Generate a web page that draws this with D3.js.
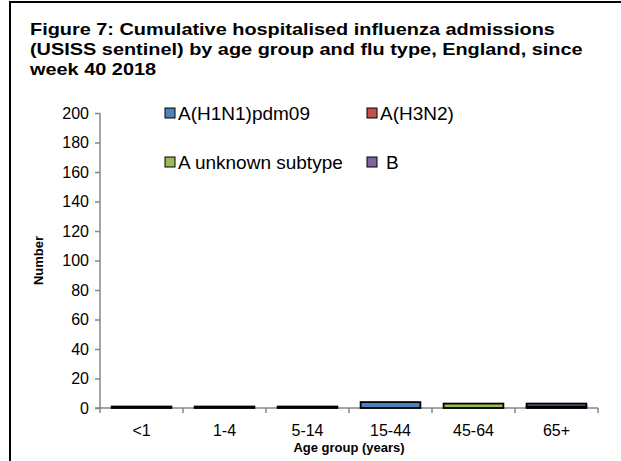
<!DOCTYPE html>
<html>
<head>
<meta charset="utf-8">
<script src="https://cdn.jsdelivr.net/npm/d3@7"></script>
<style>
  body { margin: 0; background: #fff; }
  text { font-family: "Liberation Sans", Arial, sans-serif; }
</style>
</head>
<body>
<div id="chart"></div>
<script>
// chart data
const ageGroups = ['<1', '1-4', '5-14', '15-44', '45-64', '65+'];
const seriesNames = ['A(H1N1)pdm09', 'A(H3N2)', 'A unknown subtype', 'B'];
const h1n1 = [1, 1, 1, 4, 0, 0];
const h3n2 = [0, 0, 0, 0, 0, 0];
const aUnknown = [0, 0, 0, 0, 3, 1];
const fluB = [0, 0, 0, 0, 0, 2];
const yTicks = [0, 20, 40, 60, 80, 100, 120, 140, 160, 180, 200];
const colours = ['#4F81BD', '#C0504D', '#9BBB59', '#8064A2'];

const svgWidth = 621;
const svgHeight = 461;
const margin = { top: 113, right: 23, bottom: 53, left: 100 };
const width = svgWidth - margin.left - margin.right;
const height = svgHeight - margin.top - margin.bottom;

const svg = d3.select('#chart')
    .append('svg')
    .attr('width', svgWidth)
    .attr('height', svgHeight);

// outer frame (runs off right and bottom edges)
svg.append('rect')
    .attr('x', 10)
    .attr('y', 2)
    .attr('width', 640)
    .attr('height', 480)
    .attr('fill', 'none')
    .attr('stroke', '#000')
    .attr('stroke-width', 2);

// title, a little stretched sideways like the original
const titleLines = [
    'Figure 7: Cumulative hospitalised influenza admissions',
    '(USISS sentinel) by age group and flu type, England, since',
    'week 40 2018'
];
svg.append('g')
    .attr('transform', 'translate(30, 0) scale(1.17, 1)')
    .selectAll('text')
    .data(titleLines)
    .enter()
    .append('text')
    .attr('x', 0)
    .attr('y', (d, i) => 35 + i * 20)
    .attr('font-size', '17px')
    .attr('font-weight', 'bold')
    .attr('fill', '#000')
    .text(d => d);

const chartGroup = svg.append('g')
    .attr('transform', `translate(${margin.left}, ${margin.top})`);

const xScale = d3.scaleBand()
    .domain(ageGroups)
    .range([0, width])
    .paddingInner(0.28)
    .paddingOuter(0.14);

const yScale = d3.scaleLinear()
    .domain([0, 200])
    .range([height, 0]);

// stack data
const rows = ageGroups.map((g, i) => ({
    group: g,
    [seriesNames[0]]: h1n1[i],
    [seriesNames[1]]: h3n2[i],
    [seriesNames[2]]: aUnknown[i],
    [seriesNames[3]]: fluB[i]
}));
const stacked = d3.stack().keys(seriesNames)(rows);

// y axis
const leftAxis = d3.axisLeft(yScale)
    .tickValues(yTicks)
    .tickSize(5)
    .tickSizeOuter(0)
    .tickPadding(6);
const yAxisG = chartGroup.append('g').call(leftAxis);
yAxisG.select('.domain').remove();
yAxisG.append('line')
    .attr('y1', 0)
    .attr('y2', height + 5)
    .attr('stroke', '#868686')
    .attr('stroke-width', 1.5);
yAxisG.selectAll('.tick line').attr('stroke', '#868686').attr('stroke-width', 1.5);
yAxisG.selectAll('.tick text')
    .attr('font-size', '16px')
    .attr('fill', '#000');

// x axis with ticks between categories
const xAxisG = chartGroup.append('g')
    .attr('transform', `translate(0, ${height})`);
xAxisG.append('line')
    .attr('x1', -5)
    .attr('x2', width)
    .attr('stroke', '#868686')
    .attr('stroke-width', 1.5);
const step = xScale.step();
xAxisG.selectAll('.sep')
    .data(d3.range(1, ageGroups.length + 1))
    .enter()
    .append('line')
    .attr('x1', i => i * step)
    .attr('x2', i => i * step)
    .attr('y1', 0)
    .attr('y2', 5)
    .attr('stroke', '#868686')
    .attr('stroke-width', 1.5);
xAxisG.selectAll('.cat')
    .data(ageGroups)
    .enter()
    .append('text')
    .attr('x', d => xScale(d) + xScale.bandwidth() / 2)
    .attr('y', 28)
    .attr('text-anchor', 'middle')
    .attr('font-size', '16px')
    .attr('fill', '#000')
    .text(d => d);

// bars
chartGroup.append('g').selectAll('g')
    .data(stacked)
    .enter()
    .append('g')
    .attr('fill', (d, i) => colours[i])
    .selectAll('rect')
    .data(d => d.filter(s => s[1] > s[0]))
    .enter()
    .append('rect')
    .attr('x', d => xScale(d.data.group))
    .attr('y', d => yScale(d[1]))
    .attr('width', xScale.bandwidth())
    .attr('height', d => yScale(d[0]) - yScale(d[1]))
    .attr('stroke', '#000')
    .attr('stroke-width', 1.8);

// axis titles
chartGroup.append('text')
    .attr('x', width / 2)
    .attr('y', height + 44)
    .attr('text-anchor', 'middle')
    .attr('font-size', '13px')
    .attr('font-weight', 'bold')
    .attr('font-family', '"Open Sans", sans-serif')
    .text('Age group (years)');

chartGroup.append('text')
    .attr('transform', 'rotate(-90)')
    .attr('x', -height / 2)
    .attr('y', -57)
    .attr('text-anchor', 'middle')
    .attr('font-size', '13px')
    .attr('font-weight', 'bold')
    .attr('font-family', '"Open Sans", sans-serif')
    .text('Number');

// legend, two rows of two
const legendPos = [[165, 113], [367, 113], [165, 162], [367, 162]];
const legend = svg.append('g').selectAll('g')
    .data(seriesNames)
    .enter()
    .append('g')
    .attr('transform', (d, i) => `translate(${legendPos[i][0]}, ${legendPos[i][1]})`);
legend.append('rect')
    .attr('x', 0)
    .attr('y', -5)
    .attr('width', 10)
    .attr('height', 10)
    .attr('fill', (d, i) => colours[i])
    .attr('stroke', '#000')
    .attr('stroke-width', 1);
legend.append('text')
    .attr('x', d => d === 'B' ? 19 : 13)
    .attr('y', 7)
    .attr('font-size', '19px')
    .attr('fill', '#000')
    .text(d => d);
</script>
</body>
</html>
